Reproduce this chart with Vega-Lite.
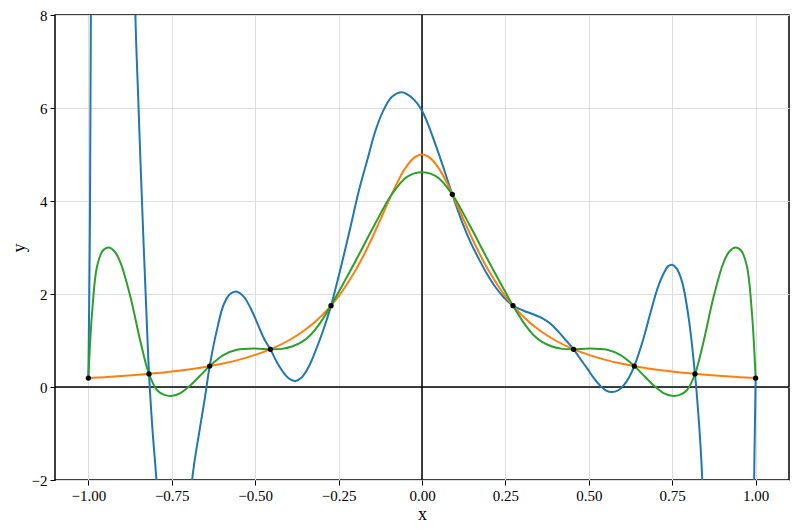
{
  "$schema": "https://vega.github.io/schema/vega-lite/v6.json",
  "width": 734,
  "height": 465,
  "autosize": {"type": "none"},
  "padding": {"left": 55, "top": 15, "right": 8, "bottom": 52},
  "config": {
    "view": {"stroke": "black", "strokeWidth": 1.5},
    "font": "Liberation Serif",
    "axis": {
      "domain": false,
      "grid": true,
      "gridColor": "#dedede",
      "gridWidth": 1,
      "tickColor": "black",
      "tickSize": 5,
      "tickWidth": 1,
      "labelFont": "Liberation Serif",
      "labelFontSize": 15,
      "labelColor": "black",
      "titleFont": "Liberation Serif",
      "titleFontSize": 18,
      "titleFontWeight": "normal",
      "titleColor": "black"
    }
  },
  "datasets": {
    "curves": [
      {"s": "p", "x": -1.0, "y": 0.19},
      {"s": "p", "x": -0.9955, "y": 3.38},
      {"s": "p", "x": -0.9925, "y": 8.0},
      {"s": "p", "x": -0.985, "y": 20},
      {"s": "p", "x": -0.93, "y": 50},
      {"s": "p", "x": -0.875, "y": 25},
      {"s": "p", "x": -0.865, "y": 12},
      {"s": "p", "x": -0.859, "y": 8.0},
      {"s": "p", "x": -0.851, "y": 6.3},
      {"s": "p", "x": -0.842, "y": 4.5},
      {"s": "p", "x": -0.834, "y": 3.0},
      {"s": "p", "x": -0.826, "y": 1.6},
      {"s": "p", "x": -0.8182, "y": 0.28},
      {"s": "p", "x": -0.808, "y": -0.9},
      {"s": "p", "x": -0.796, "y": -2.0},
      {"s": "p", "x": -0.77, "y": -5},
      {"s": "p", "x": -0.74, "y": -6},
      {"s": "p", "x": -0.71, "y": -4.5},
      {"s": "p", "x": -0.689, "y": -2.0},
      {"s": "p", "x": -0.666, "y": -0.9},
      {"s": "p", "x": -0.65, "y": -0.2},
      {"s": "p", "x": -0.6364, "y": 0.45},
      {"s": "p", "x": -0.614, "y": 1.25},
      {"s": "p", "x": -0.594, "y": 1.78},
      {"s": "p", "x": -0.575, "y": 2.0},
      {"s": "p", "x": -0.555, "y": 2.05},
      {"s": "p", "x": -0.535, "y": 1.95},
      {"s": "p", "x": -0.514, "y": 1.7},
      {"s": "p", "x": -0.494, "y": 1.38},
      {"s": "p", "x": -0.474, "y": 1.05},
      {"s": "p", "x": -0.4545, "y": 0.81},
      {"s": "p", "x": -0.434, "y": 0.52},
      {"s": "p", "x": -0.414, "y": 0.3},
      {"s": "p", "x": -0.396, "y": 0.17},
      {"s": "p", "x": -0.379, "y": 0.13},
      {"s": "p", "x": -0.36, "y": 0.21},
      {"s": "p", "x": -0.34, "y": 0.43},
      {"s": "p", "x": -0.32, "y": 0.76},
      {"s": "p", "x": -0.296, "y": 1.22},
      {"s": "p", "x": -0.2727, "y": 1.75},
      {"s": "p", "x": -0.244, "y": 2.55},
      {"s": "p", "x": -0.214, "y": 3.45},
      {"s": "p", "x": -0.19, "y": 4.2},
      {"s": "p", "x": -0.164, "y": 4.88},
      {"s": "p", "x": -0.14, "y": 5.5},
      {"s": "p", "x": -0.115, "y": 5.96},
      {"s": "p", "x": -0.09, "y": 6.24},
      {"s": "p", "x": -0.061, "y": 6.34},
      {"s": "p", "x": -0.03, "y": 6.22},
      {"s": "p", "x": 0.0, "y": 5.94},
      {"s": "p", "x": 0.046, "y": 5.1},
      {"s": "p", "x": 0.0909, "y": 4.14},
      {"s": "p", "x": 0.12, "y": 3.55},
      {"s": "p", "x": 0.145, "y": 3.12},
      {"s": "p", "x": 0.17, "y": 2.76},
      {"s": "p", "x": 0.195, "y": 2.43},
      {"s": "p", "x": 0.22, "y": 2.15},
      {"s": "p", "x": 0.245, "y": 1.93},
      {"s": "p", "x": 0.2727, "y": 1.75},
      {"s": "p", "x": 0.305, "y": 1.64},
      {"s": "p", "x": 0.335, "y": 1.56},
      {"s": "p", "x": 0.36, "y": 1.48},
      {"s": "p", "x": 0.385, "y": 1.36},
      {"s": "p", "x": 0.41, "y": 1.18},
      {"s": "p", "x": 0.432, "y": 1.0},
      {"s": "p", "x": 0.4545, "y": 0.81},
      {"s": "p", "x": 0.475, "y": 0.6},
      {"s": "p", "x": 0.495, "y": 0.4},
      {"s": "p", "x": 0.515, "y": 0.19},
      {"s": "p", "x": 0.535, "y": 0.02},
      {"s": "p", "x": 0.552, "y": -0.08},
      {"s": "p", "x": 0.57, "y": -0.11},
      {"s": "p", "x": 0.588, "y": -0.07},
      {"s": "p", "x": 0.605, "y": 0.04},
      {"s": "p", "x": 0.62, "y": 0.2},
      {"s": "p", "x": 0.6364, "y": 0.45},
      {"s": "p", "x": 0.66, "y": 0.95},
      {"s": "p", "x": 0.685, "y": 1.6},
      {"s": "p", "x": 0.705, "y": 2.1},
      {"s": "p", "x": 0.725, "y": 2.45},
      {"s": "p", "x": 0.738, "y": 2.6},
      {"s": "p", "x": 0.75, "y": 2.63},
      {"s": "p", "x": 0.763, "y": 2.55},
      {"s": "p", "x": 0.78, "y": 2.25},
      {"s": "p", "x": 0.8, "y": 1.45},
      {"s": "p", "x": 0.8182, "y": 0.28},
      {"s": "p", "x": 0.825, "y": -0.28},
      {"s": "p", "x": 0.84, "y": -2.0},
      {"s": "p", "x": 0.87, "y": -15},
      {"s": "p", "x": 0.93, "y": -40},
      {"s": "p", "x": 0.98, "y": -15},
      {"s": "p", "x": 0.9955, "y": -2.0},
      {"s": "p", "x": 1.0, "y": 0.19},

      {"s": "f", "x": -1.0, "y": 0.192},
      {"s": "f", "x": -0.95, "y": 0.212},
      {"s": "f", "x": -0.9, "y": 0.235},
      {"s": "f", "x": -0.85, "y": 0.262},
      {"s": "f", "x": -0.8, "y": 0.294},
      {"s": "f", "x": -0.75, "y": 0.332},
      {"s": "f", "x": -0.7, "y": 0.377},
      {"s": "f", "x": -0.65, "y": 0.432},
      {"s": "f", "x": -0.6, "y": 0.5},
      {"s": "f", "x": -0.55, "y": 0.584},
      {"s": "f", "x": -0.5, "y": 0.69},
      {"s": "f", "x": -0.45, "y": 0.825},
      {"s": "f", "x": -0.4, "y": 1.0},
      {"s": "f", "x": -0.35, "y": 1.231},
      {"s": "f", "x": -0.3, "y": 1.538},
      {"s": "f", "x": -0.25, "y": 1.951},
      {"s": "f", "x": -0.2, "y": 2.5},
      {"s": "f", "x": -0.175, "y": 2.832},
      {"s": "f", "x": -0.15, "y": 3.2},
      {"s": "f", "x": -0.125, "y": 3.596},
      {"s": "f", "x": -0.1, "y": 4.0},
      {"s": "f", "x": -0.075, "y": 4.384},
      {"s": "f", "x": -0.05, "y": 4.706},
      {"s": "f", "x": -0.025, "y": 4.923},
      {"s": "f", "x": 0.0, "y": 5.0},
      {"s": "f", "x": 0.025, "y": 4.923},
      {"s": "f", "x": 0.05, "y": 4.706},
      {"s": "f", "x": 0.075, "y": 4.384},
      {"s": "f", "x": 0.1, "y": 4.0},
      {"s": "f", "x": 0.125, "y": 3.596},
      {"s": "f", "x": 0.15, "y": 3.2},
      {"s": "f", "x": 0.175, "y": 2.832},
      {"s": "f", "x": 0.2, "y": 2.5},
      {"s": "f", "x": 0.25, "y": 1.951},
      {"s": "f", "x": 0.3, "y": 1.538},
      {"s": "f", "x": 0.35, "y": 1.231},
      {"s": "f", "x": 0.4, "y": 1.0},
      {"s": "f", "x": 0.45, "y": 0.825},
      {"s": "f", "x": 0.5, "y": 0.69},
      {"s": "f", "x": 0.55, "y": 0.584},
      {"s": "f", "x": 0.6, "y": 0.5},
      {"s": "f", "x": 0.65, "y": 0.432},
      {"s": "f", "x": 0.7, "y": 0.377},
      {"s": "f", "x": 0.75, "y": 0.332},
      {"s": "f", "x": 0.8, "y": 0.294},
      {"s": "f", "x": 0.85, "y": 0.262},
      {"s": "f", "x": 0.9, "y": 0.235},
      {"s": "f", "x": 0.95, "y": 0.212},
      {"s": "f", "x": 1.0, "y": 0.192},

      {"s": "g", "x": -1.0, "y": 0.19},
      {"s": "g", "x": -0.989, "y": 1.58},
      {"s": "g", "x": -0.974, "y": 2.59},
      {"s": "g", "x": -0.957, "y": 2.93},
      {"s": "g", "x": -0.94, "y": 3.0},
      {"s": "g", "x": -0.922, "y": 2.92},
      {"s": "g", "x": -0.904, "y": 2.68},
      {"s": "g", "x": -0.874, "y": 1.94},
      {"s": "g", "x": -0.844, "y": 0.98},
      {"s": "g", "x": -0.8182, "y": 0.28},
      {"s": "g", "x": -0.794, "y": -0.07},
      {"s": "g", "x": -0.772, "y": -0.17},
      {"s": "g", "x": -0.749, "y": -0.19},
      {"s": "g", "x": -0.724, "y": -0.13},
      {"s": "g", "x": -0.697, "y": 0.02},
      {"s": "g", "x": -0.667, "y": 0.23},
      {"s": "g", "x": -0.6364, "y": 0.45},
      {"s": "g", "x": -0.594, "y": 0.69},
      {"s": "g", "x": -0.555, "y": 0.8},
      {"s": "g", "x": -0.504, "y": 0.83},
      {"s": "g", "x": -0.4545, "y": 0.81},
      {"s": "g", "x": -0.42, "y": 0.82},
      {"s": "g", "x": -0.39, "y": 0.87},
      {"s": "g", "x": -0.36, "y": 0.97},
      {"s": "g", "x": -0.334, "y": 1.12},
      {"s": "g", "x": -0.304, "y": 1.39},
      {"s": "g", "x": -0.2727, "y": 1.75},
      {"s": "g", "x": -0.244, "y": 2.12},
      {"s": "g", "x": -0.194, "y": 2.78},
      {"s": "g", "x": -0.145, "y": 3.45},
      {"s": "g", "x": -0.0909, "y": 4.14},
      {"s": "g", "x": -0.045, "y": 4.52},
      {"s": "g", "x": 0.0, "y": 4.62},
      {"s": "g", "x": 0.045, "y": 4.52},
      {"s": "g", "x": 0.0909, "y": 4.14},
      {"s": "g", "x": 0.145, "y": 3.45},
      {"s": "g", "x": 0.194, "y": 2.78},
      {"s": "g", "x": 0.244, "y": 2.12},
      {"s": "g", "x": 0.2727, "y": 1.75},
      {"s": "g", "x": 0.304, "y": 1.39},
      {"s": "g", "x": 0.334, "y": 1.12},
      {"s": "g", "x": 0.36, "y": 0.97},
      {"s": "g", "x": 0.39, "y": 0.87},
      {"s": "g", "x": 0.42, "y": 0.82},
      {"s": "g", "x": 0.4545, "y": 0.81},
      {"s": "g", "x": 0.504, "y": 0.83},
      {"s": "g", "x": 0.555, "y": 0.8},
      {"s": "g", "x": 0.594, "y": 0.69},
      {"s": "g", "x": 0.6364, "y": 0.45},
      {"s": "g", "x": 0.667, "y": 0.23},
      {"s": "g", "x": 0.697, "y": 0.02},
      {"s": "g", "x": 0.724, "y": -0.13},
      {"s": "g", "x": 0.749, "y": -0.19},
      {"s": "g", "x": 0.772, "y": -0.17},
      {"s": "g", "x": 0.794, "y": -0.07},
      {"s": "g", "x": 0.8182, "y": 0.28},
      {"s": "g", "x": 0.844, "y": 0.98},
      {"s": "g", "x": 0.874, "y": 1.94},
      {"s": "g", "x": 0.904, "y": 2.68},
      {"s": "g", "x": 0.922, "y": 2.92},
      {"s": "g", "x": 0.94, "y": 3.0},
      {"s": "g", "x": 0.957, "y": 2.93},
      {"s": "g", "x": 0.974, "y": 2.59},
      {"s": "g", "x": 0.989, "y": 1.58},
      {"s": "g", "x": 1.0, "y": 0.19}
    ],
    "nodes": [
      {"x": -1.0, "y": 0.192},
      {"x": -0.8182, "y": 0.282},
      {"x": -0.6364, "y": 0.449},
      {"x": -0.4545, "y": 0.811},
      {"x": -0.2727, "y": 1.749},
      {"x": 0.0909, "y": 4.144},
      {"x": 0.2727, "y": 1.749},
      {"x": 0.4545, "y": 0.811},
      {"x": 0.6364, "y": 0.449},
      {"x": 0.8182, "y": 0.282},
      {"x": 1.0, "y": 0.192}
    ],
    "zero": [{"v": 0}]
  },
  "layer": [
    {
      "data": {"name": "zero"},
      "mark": {"type": "rule", "color": "black", "strokeWidth": 1.5},
      "encoding": {"y": {"field": "v", "type": "quantitative", "scale": {"domain": [-2, 8]}}}
    },
    {
      "data": {"name": "zero"},
      "mark": {"type": "rule", "color": "black", "strokeWidth": 1.5},
      "encoding": {"x": {"field": "v", "type": "quantitative", "scale": {"domain": [-1.1, 1.1]}}}
    },
    {
      "data": {"name": "curves"},
      "mark": {"type": "line", "interpolate": "catmull-rom", "strokeWidth": 2, "clip": true},
      "encoding": {
        "x": {
          "field": "x", "type": "quantitative",
          "scale": {"domain": [-1.1, 1.1], "nice": false, "zero": false},
          "axis": {"values": [-1, -0.75, -0.5, -0.25, 0, 0.25, 0.5, 0.75, 1], "format": ".2f", "title": "x", "labelPadding": 3, "titlePadding": 2}
        },
        "y": {
          "field": "y", "type": "quantitative",
          "scale": {"domain": [-2, 8], "nice": false, "zero": false},
          "axis": {"values": [-2, 0, 2, 4, 6, 8], "title": "y", "labelPadding": 3, "titlePadding": 3}
        },
        "color": {
          "field": "s", "type": "nominal", "legend": null,
          "scale": {"domain": ["p", "f", "g"], "range": ["#1f77b4", "#ff7f0e", "#2ca02c"]}
        },
        "order": {"field": "x", "type": "quantitative"}
      }
    },
    {
      "data": {"name": "nodes"},
      "mark": {"type": "circle", "color": "black", "size": 28, "opacity": 1},
      "encoding": {
        "x": {"field": "x", "type": "quantitative"},
        "y": {"field": "y", "type": "quantitative"}
      }
    }
  ]
}
